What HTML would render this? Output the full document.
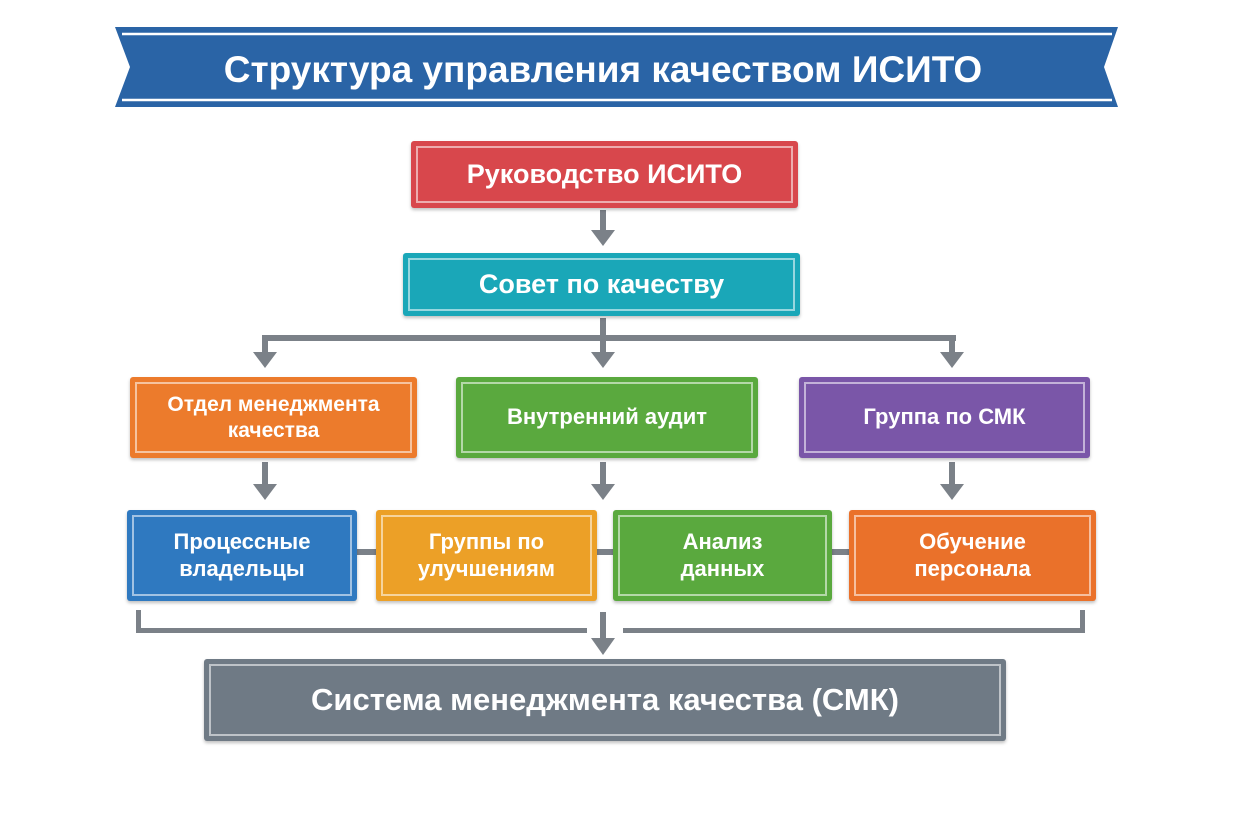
<!DOCTYPE html>
<html><head><meta charset="utf-8"><style>
body{margin:0;width:1238px;height:820px;background:#fff;position:relative;overflow:hidden;font-family:"Liberation Sans","DejaVu Sans",sans-serif;}
.b{position:absolute;box-sizing:border-box;border-radius:3px;display:flex;align-items:center;justify-content:center;text-align:center;color:#fff;font-weight:bold;box-shadow:0 2px 3px rgba(0,0,0,.25);line-height:1.2;}
.b::before{content:"";position:absolute;left:5px;top:5px;right:5px;bottom:5px;border:2px solid rgba(255,255,255,.55);}
</style></head><body>
<svg width="1238" height="820" style="position:absolute;left:0;top:0">
<polygon points="115,27 1118,27 1104,67 1118,107 115,107 130,67" fill="#2a64a6"/>
<line x1="122" y1="34" x2="1112" y2="34" stroke="#fff" stroke-width="2.5"/>
<line x1="122" y1="100" x2="1112" y2="100" stroke="#fff" stroke-width="2.5"/>
<text x="603" y="82" text-anchor="middle" fill="#fff" font-family="Liberation Sans" font-weight="bold" font-size="37">Структура управления качеством ИСИТО</text>
<g fill="#7b8188" stroke="none">
<rect x="600" y="210" width="6" height="22"/><polygon points="591,230 615,230 603,246"/>
<rect x="600" y="318" width="6" height="22"/>
<rect x="262" y="335" width="694" height="6"/>
<rect x="262" y="335" width="6" height="20"/><polygon points="253,352 277,352 265,368"/>
<rect x="600" y="335" width="6" height="20"/><polygon points="591,352 615,352 603,368"/>
<rect x="949" y="335" width="6" height="20"/><polygon points="940,352 964,352 952,368"/>
<rect x="262" y="462" width="6" height="24"/><polygon points="253,484 277,484 265,500"/>
<rect x="600" y="462" width="6" height="24"/><polygon points="591,484 615,484 603,500"/>
<rect x="949" y="462" width="6" height="24"/><polygon points="940,484 964,484 952,500"/>
<rect x="357" y="549" width="20" height="6"/><rect x="597" y="549" width="17" height="6"/><rect x="832" y="549" width="18" height="6"/>
<rect x="136" y="610" width="5" height="23"/><rect x="136" y="628" width="451" height="5"/>
<rect x="623" y="628" width="462" height="5"/><rect x="1080" y="610" width="5" height="23"/>
<rect x="600" y="612" width="6" height="28"/><polygon points="591,638 615,638 603,655"/>
</g>
</svg>
<div class="b" style="left:411px;top:141px;width:387px;height:67px;background:#d8474c;font-size:27px">Руководство ИСИТО</div>
<div class="b" style="left:403px;top:253px;width:397px;height:63px;background:#1aa7b8;font-size:27px">Совет по качеству</div>
<div class="b" style="left:130px;top:377px;width:287px;height:81px;background:#ec7b2c;font-size:21px">Отдел менеджмента<br>качества</div>
<div class="b" style="left:456px;top:377px;width:302px;height:81px;background:#5aa93e;font-size:22px">Внутренний аудит</div>
<div class="b" style="left:799px;top:377px;width:291px;height:81px;background:#7a56a8;font-size:22px">Группа по СМК</div>
<div class="b" style="left:127px;top:510px;width:230px;height:91px;background:#2f79c0;font-size:22px">Процессные<br>владельцы</div>
<div class="b" style="left:376px;top:510px;width:221px;height:91px;background:#eca027;font-size:22px">Группы по<br>улучшениям</div>
<div class="b" style="left:613px;top:510px;width:219px;height:91px;background:#5aa93e;font-size:22px">Анализ<br>данных</div>
<div class="b" style="left:849px;top:510px;width:247px;height:91px;background:#ea712a;font-size:22px">Обучение<br>персонала</div>
<div class="b" style="left:204px;top:659px;width:802px;height:82px;background:#6f7a85;font-size:31px">Система менеджмента качества (СМК)</div>
</body></html>
